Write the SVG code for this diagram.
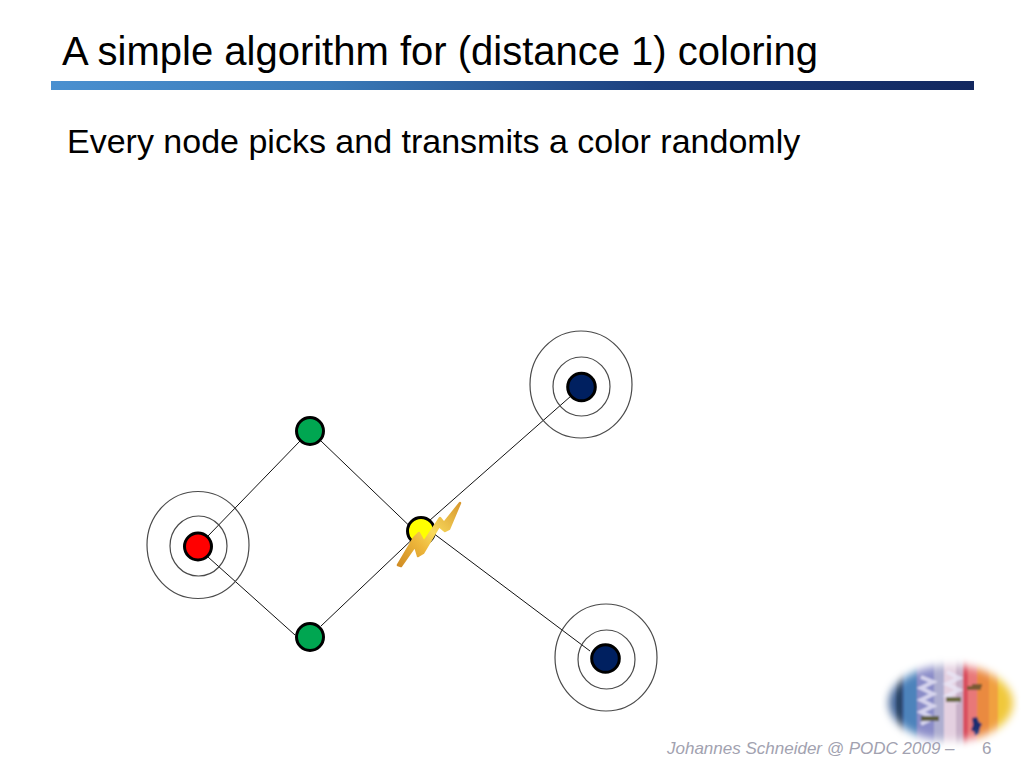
<svg xmlns="http://www.w3.org/2000/svg" width="1024" height="768" viewBox="0 0 1024 768">
<style>
.t{font-family:"Liberation Sans",Arial,sans-serif;fill:#000}
.ring{fill:none;stroke:#4a4a4a;stroke-width:1.2}
.node{stroke:#000;stroke-width:3}
.edge{stroke:#111;stroke-width:1;fill:none}
.foot{font-family:"Liberation Sans",Arial,sans-serif;font-size:17px;fill:#a2a2b0}
</style>
<defs>
<linearGradient id="bar" x1="0" x2="1" y1="0" y2="0">
<stop offset="0" stop-color="#4a90d0"/><stop offset="0.3" stop-color="#3a7ab8"/><stop offset="0.65" stop-color="#1c3f7e"/><stop offset="1" stop-color="#12275f"/>
</linearGradient>
<linearGradient id="bolt" x1="0" y1="1" x2="1" y2="0">
<stop offset="0" stop-color="#d08c24"/><stop offset="0.35" stop-color="#eeb83c"/><stop offset="0.55" stop-color="#f8da5c"/><stop offset="1" stop-color="#d8982e"/>
</linearGradient>
<filter id="soft" x="-20%" y="-20%" width="140%" height="140%"><feGaussianBlur stdDeviation="4"/></filter>
<filter id="tiny" x="-10%" y="-10%" width="120%" height="120%"><feGaussianBlur stdDeviation="0.8"/></filter>
<mask id="oval" maskUnits="userSpaceOnUse" x="870" y="645" width="154" height="123">
<ellipse cx="951" cy="703" rx="62" ry="38" fill="#fff" filter="url(#soft)"/>
</mask>
</defs>
<g id="title">
<text class="t" x="62" y="65" font-size="40px">A simple algorithm for (distance 1) coloring</text>
<rect x="51" y="81" width="923" height="9" fill="url(#bar)"/>
<text class="t" x="67" y="152.500" font-size="34px">Every node picks and transmits a color randomly</text>
</g>
<g id="connectors">
<path class="edge" d="M208 536L300 441"/>
<path class="edge" d="M208 557L295 635"/>
<path class="edge" d="M321 441L421 537"/>
<path class="edge" d="M321 626L421 531"/>
<path class="edge" d="M421 528L571 396"/>
<path class="edge" d="M421 524L590 651"/>
</g>
<g id="rings">
<ellipse class="ring" cx="198.500" cy="546" rx="28.500" ry="30"/><ellipse class="ring" cx="198" cy="545" rx="51" ry="53.500"/>
<ellipse class="ring" cx="581.500" cy="386.500" rx="28.500" ry="29.500"/><ellipse class="ring" cx="581" cy="384.500" rx="51" ry="53.500"/>
<ellipse class="ring" cx="606.500" cy="659.500" rx="28.500" ry="29.500"/><ellipse class="ring" cx="606" cy="657.500" rx="51" ry="53.500"/>
</g>
<g id="node-red"><circle class="node" cx="198" cy="546.500" r="13.500" fill="#f00"/></g>
<g id="node-green-top"><circle class="node" cx="310" cy="431" r="13.500" fill="#00a651"/></g>
<g id="node-green-bottom"><circle class="node" cx="310" cy="637" r="13.500" fill="#00a651"/></g>
<g id="node-yellow"><circle class="node" cx="421" cy="531" r="13.500" fill="#ff0"/></g>
<g id="node-blue-top"><circle class="node" cx="581.500" cy="387" r="13.800" fill="#002060"/></g>
<g id="node-blue-bottom"><circle class="node" cx="605.500" cy="658.500" r="13.800" fill="#002060"/></g>
<g id="bolt-shape">
<path d="M398 565L414 538L419 533L424 542L440 518L444 523L460 503L449 529L445 531L439 526L423 553L418 556L415 546L401 566Z" fill="url(#bolt)" stroke="url(#bolt)" stroke-width="2.500" stroke-linejoin="round"/>
</g>
<g id="footer">
<text class="foot" x="667" y="754" font-style="italic">Johannes Schneider @ PODC 2009 –</text>
<text class="foot" x="982" y="754">6</text>
</g>
<g id="photo-oval" mask="url(#oval)">
<g filter="url(#tiny)">
<rect x="880" y="655" width="24" height="100" fill="#3a5f94"/>
<rect x="896" y="655" width="6" height="100" fill="#2c4468"/>
<rect x="904" y="655" width="13" height="100" fill="#4d83bb"/>
<rect x="917" y="655" width="17" height="100" fill="#8a8cc8"/>
<rect x="934" y="655" width="10" height="100" fill="#aeaed0"/>
<rect x="944" y="655" width="12" height="100" fill="#e4d0e0"/>
<rect x="956" y="655" width="7" height="100" fill="#c8b0c8"/>
<rect x="963" y="655" width="5" height="100" fill="#d9505e"/>
<rect x="968" y="655" width="9" height="100" fill="#e87878"/>
<rect x="977" y="655" width="12" height="100" fill="#ea8a40"/>
<rect x="989" y="655" width="9" height="100" fill="#f0a040"/>
<rect x="998" y="655" width="22" height="100" fill="#f0c83a"/>
<path d="M921 677l12 5-12 6 12 6-12 6 12 6-12 6 12 6-12 6M947 672l12 6-12 6 12 6-12 6 12 6" fill="none" stroke="#e8e6f6" stroke-width="4" opacity=".8"/>
<rect x="921" y="716" width="18" height="5" fill="#5f5f40"/>
<rect x="946" y="697" width="15" height="5" fill="#6a6a40"/>
<rect x="967" y="686" width="14" height="4" fill="#7a5a30"/>
<rect x="972" y="684" width="10" height="3" fill="#7a5a30"/>
<path d="M972 718l5-1 2 5 3 2-2 4-1 6-4 2-1-4-3-2 2-5z" fill="#1a2f70"/>
</g>
</g>
</svg>
